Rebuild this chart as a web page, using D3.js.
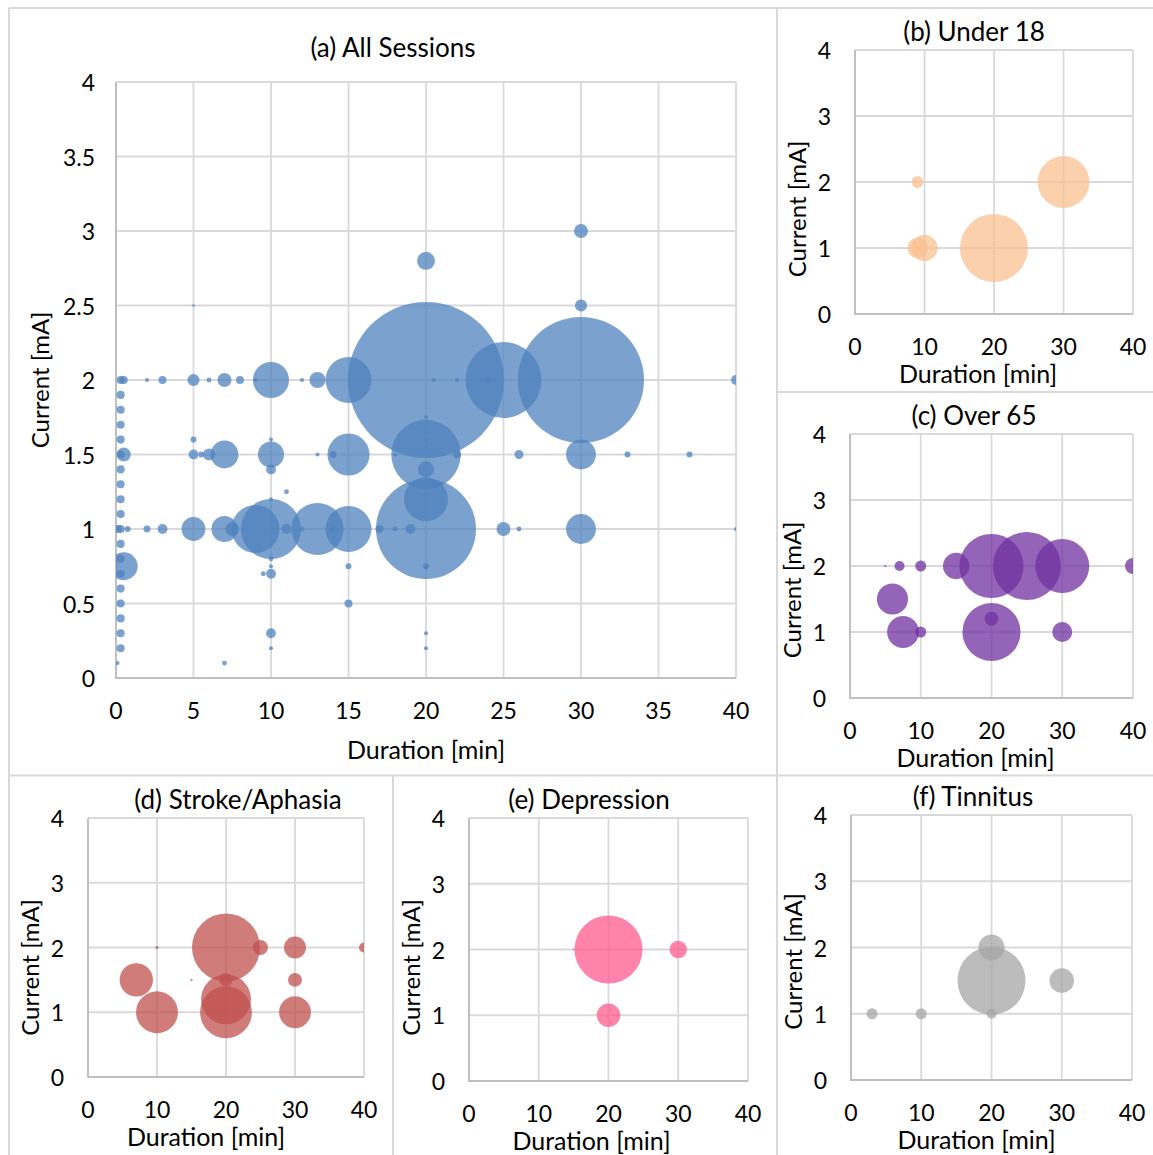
<!DOCTYPE html>
<html>
<head>
<meta charset="utf-8">
<script src="https://cdn.jsdelivr.net/npm/d3@7"></script>
<style>
  body { margin: 0; background: #fff; }
  svg { font-family: Lato, "Open Sans", sans-serif; }
</style>
</head>
<body>
<div id="chart"></div>
<script>
// [duration (min), current (mA), sessions]
const allSessions = [
  [0.3, 0.2, 4], [0.3, 0.3, 4], [0.3, 0.4, 4], [0.3, 0.5, 4], [0.3, 0.6, 4],
  [0.3, 0.7, 4], [0.3, 0.8, 4], [0.3, 0.9, 4], [0.3, 1.0, 4], [0.3, 1.1, 4],
  [0.3, 1.2, 4], [0.3, 1.3, 4], [0.3, 1.4, 4], [0.3, 1.5, 4], [0.3, 1.6, 4],
  [0.3, 1.7, 4], [0.3, 1.8, 4], [0.3, 1.9, 4], [0.3, 2.0, 4],
  [0.5, 2.0, 4], [0.5, 1.5, 12], [0.1, 1.0, 4], [0.75, 1.0, 2.2], [0.5, 0.75, 48], [0.1, 0.1, 1],
  [2, 2, 1], [3, 2, 4], [5, 2, 9], [6, 2, 1.5], [7, 2, 12], [8, 2, 4], [9, 2, 1],
  [10, 2, 80], [12, 2, 1], [13, 2, 16], [15, 2, 130], [20, 2, 1500], [20.5, 2, 1],
  [22, 2, 1], [24, 2, 2.2], [25, 2, 356], [30, 2, 979], [40, 2, 6],
  [5, 2.5, 0.4], [20, 2.8, 20], [30, 3, 12], [30, 2.5, 9], [20, 1.75, 1], [20, 1.6, 1],
  [5, 1.5, 6], [5.5, 1.5, 2.2], [6, 1.5, 9], [7, 1.5, 48], [10, 1.5, 42], [13, 1.5, 1],
  [14, 1.5, 3], [15, 1.5, 109], [18, 1.5, 1], [20, 1.5, 297], [22, 1.5, 4], [26, 1.5, 5],
  [30, 1.5, 55], [33, 1.5, 2.2], [37, 1.5, 2.2],
  [5, 1.6, 2.2], [10, 1.4, 6], [20, 1.4, 16], [10, 1.6, 1],
  [2, 1, 3], [3, 1, 6], [5, 1, 35], [7, 1, 42], [7.5, 1, 12], [9, 1, 142], [10, 1, 222],
  [11, 1, 6], [12, 1, 1.5], [13, 1, 167], [14, 1, 3], [15, 1, 130], [17, 1, 4], [18, 1, 1.5],
  [19, 1, 6], [20, 1, 616], [25, 1, 12], [26, 1, 1.5], [30, 1, 55], [40, 1, 1],
  [11, 1.25, 1.5], [20, 1.2, 119], [10, 1.2, 1],
  [10, 0.8, 1.5], [10, 0.75, 1], [9.5, 0.7, 1.5], [10, 0.7, 6], [15, 0.75, 2.2], [20, 0.75, 2.2],
  [15, 0.5, 4], [10, 0.3, 6], [10, 0.2, 1], [20, 0.3, 1], [20, 0.2, 1], [7, 0.1, 1.5]
];
const under18 = [[9, 2, 3], [9, 1, 9], [10, 1, 15], [20, 1, 100], [30, 2, 58]];
const over65 = [
  [5, 2, 0.1], [7, 2, 2.2], [10, 2, 2.6], [15, 2, 15], [20, 2, 89], [25, 2, 100],
  [30, 2, 63], [40, 2, 5.5], [6, 1.5, 21], [7.5, 1, 22], [10, 1, 2.6], [20, 1.2, 4.2],
  [20, 1, 73], [30, 1, 8.7]
];
const stroke = [
  [10, 2, 0.2], [20, 2, 100], [25, 2, 4.9], [30, 2, 10.5], [40, 2, 2.2], [7, 1.5, 24],
  [15, 1.5, 0.1], [20, 1.5, 3.7], [20, 1.2, 54], [20, 1, 58], [10, 1, 38], [30, 1, 22],
  [30, 1.5, 4.2]
];
const depression = [[20, 2, 100], [15, 2, 0.1], [30, 2, 6.5], [20, 1, 12]];
const tinnitus = [[3, 1, 2.6], [10, 1, 2.6], [20, 1, 2.2], [20, 1.5, 100], [20, 2, 14.6], [30, 1.5, 13]];

const xTicksA = [0, 5, 10, 15, 20, 25, 30, 35, 40];
const yTicksA = [0, 0.5, 1, 1.5, 2, 2.5, 3, 3.5, 4];
const xTicksSmall = [0, 10, 20, 30, 40];
const yTicksSmall = [0, 1, 2, 3, 4];

const W = 1153, H = 1155;
const svg = d3.select("#chart").append("svg")
  .attr("width", W).attr("height", H);

// panel frames
const frame = svg.append("g").attr("stroke", "#d9d9d9").attr("stroke-width", 2).attr("fill", "none");
[[9, 8, 1153, 8], [9, 8, 9, 1155], [777, 8, 777, 1155], [777, 392, 1153, 392],
 [9, 775.5, 1153, 775.5], [393, 775.5, 393, 1155]]
  .forEach(l => frame.append("line").attr("x1", l[0]).attr("y1", l[1]).attr("x2", l[2]).attr("y2", l[3]));

let clipId = 0;
function panel(o) {
  const x = d3.scaleLinear().domain([0, 40]).range([o.left, o.right]);
  const y = d3.scaleLinear().domain([0, 4]).range([o.bottom, o.top]);
  const r = d3.scaleSqrt().domain([0, o.maxSize]).range([0, o.maxR]);
  const g = svg.append("g");

  // gridlines
  g.append("g").selectAll("line").data(o.xTicks).join("line")
    .attr("x1", d => x(d)).attr("x2", d => x(d))
    .attr("y1", o.top).attr("y2", o.bottom)
    .attr("stroke", "#d9d9d9").attr("stroke-width", 1.8);
  g.append("g").selectAll("line").data(o.yTicks).join("line")
    .attr("x1", o.left).attr("x2", o.right)
    .attr("y1", d => y(d)).attr("y2", d => y(d))
    .attr("stroke", "#d9d9d9").attr("stroke-width", 1.8);
  // axis lines
  g.append("line").attr("x1", o.left).attr("x2", o.left).attr("y1", o.top).attr("y2", o.bottom + 1)
    .attr("stroke", "#bfbfbf").attr("stroke-width", 2);
  g.append("line").attr("x1", o.left - 1).attr("x2", o.right).attr("y1", o.bottom).attr("y2", o.bottom)
    .attr("stroke", "#bfbfbf").attr("stroke-width", 2);

  // bubbles
  const id = "clip" + (clipId++);
  svg.append("clipPath").attr("id", id).append("rect")
    .attr("x", o.left).attr("y", o.top).attr("width", o.right - o.left).attr("height", o.bottom - o.top);
  g.append("g").attr("clip-path", `url(#${id})`)
    .selectAll("circle").data(o.data).join("circle")
    .attr("cx", d => x(d[0])).attr("cy", d => y(d[1])).attr("r", d => r(d[2]))
    .attr("fill", o.color).attr("fill-opacity", 0.75);

  // tick labels
  g.append("g").selectAll("text").data(o.yTicks).join("text")
    .attr("x", o.left - o.yTickGap).attr("y", d => y(d))
    .attr("text-anchor", "end").attr("dominant-baseline", "central")
    .attr("font-size", 23).attr("fill", "#000")
    .text(d => d);
  g.append("g").selectAll("text").data(o.xTicks).join("text")
    .attr("x", d => x(d)).attr("y", o.bottom + o.xTickGap)
    .attr("text-anchor", "middle").attr("dominant-baseline", "central")
    .attr("font-size", 23).attr("fill", "#000")
    .text(d => d);

  // titles
  g.append("text").attr("x", o.titleX).attr("y", o.top - o.titleGap)
    .attr("text-anchor", "middle").attr("dominant-baseline", "central")
    .attr("font-size", 26).text(o.title);
  g.append("text").attr("x", (o.left + o.right) / 2 + o.xTitleShift).attr("y", o.bottom + o.xTitleGap)
    .attr("text-anchor", "middle").attr("dominant-baseline", "central")
    .attr("font-size", 25).text("Duration [min]");
  g.append("text")
    .attr("transform", `translate(${o.left - o.yTitleGap},${(o.top + o.bottom) / 2 + o.yTitleShift}) rotate(-90)`)
    .attr("text-anchor", "middle").attr("dominant-baseline", "central")
    .attr("font-size", 24).text("Current [mA]");
}

panel({ title: "(a) All Sessions", data: allSessions, color: "#4F81BD",
  left: 116, right: 736, top: 82, bottom: 678, maxSize: 1500, maxR: 78,
  xTicks: xTicksA, yTicks: yTicksA, yTickGap: 21, xTickGap: 32,
  titleX: 393, titleGap: 35, xTitleGap: 71, xTitleShift: 0, yTitleGap: 77, yTitleShift: 0 });

const small = { maxSize: 100, maxR: 34, xTicks: xTicksSmall, yTicks: yTicksSmall,
  yTickGap: 24, xTickGap: 32, titleGap: 19, xTitleGap: 59, yTitleGap: 59 };

panel(Object.assign({}, small, { title: "(b) Under 18", data: under18, color: "#FAC090",
  left: 855, right: 1133, top: 50, bottom: 314, titleX: 974, xTitleShift: -16, yTitleShift: 27 }));
panel(Object.assign({}, small, { title: "(c) Over 65", data: over65, color: "#7030A0",
  left: 850, right: 1133, top: 434, bottom: 698, titleX: 974, xTitleShift: -16, yTitleShift: 24 }));
panel(Object.assign({}, small, { title: "(d) Stroke/Aphasia", data: stroke, color: "#C0504D",
  left: 88, right: 364, top: 818, bottom: 1077, titleX: 238, xTitleShift: -20, yTitleShift: 20 }));
panel(Object.assign({}, small, { title: "(e) Depression", data: depression, color: "#FF5A8E",
  left: 469, right: 748, top: 818, bottom: 1081, titleX: 589, xTitleShift: -17, yTitleShift: 18 }));
panel(Object.assign({}, small, { title: "(f) Tinnitus", data: tinnitus, color: "#A5A5A5",
  left: 851, right: 1132, top: 815, bottom: 1080, titleX: 973, xTitleShift: -15, yTitleShift: 14 }));
</script>
</body>
</html>
